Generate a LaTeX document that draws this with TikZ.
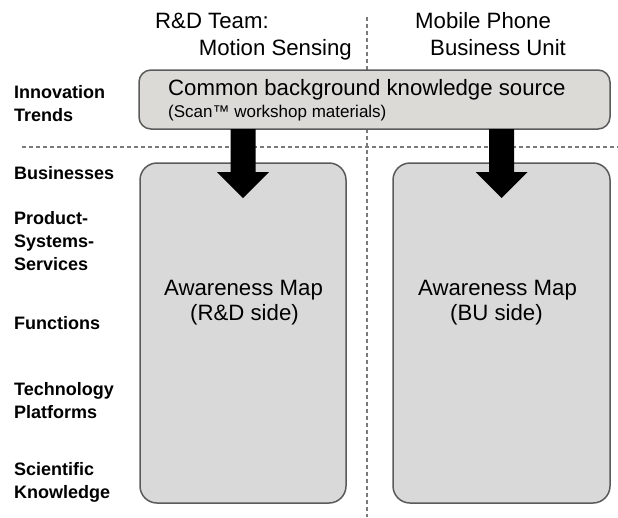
\documentclass[tikz,border=0pt]{standalone}
\usepackage{fontspec}
\setmainfont{Liberation Sans}
\usetikzlibrary{calc}
\definecolor{srcfill}{HTML}{DCDAD6}
\definecolor{mapfill}{HTML}{D9D9D9}
\definecolor{edgegray}{HTML}{5A5A5A}
\definecolor{guidegray}{HTML}{7A7A7A}
\begin{document}
\begin{tikzpicture}[x=1pt,y=-1pt,
  layer/.style={font=\fontsize{18}{21}\selectfont\bfseries, anchor=base west, inner sep=0pt},
  head/.style={font=\fontsize{22.2}{26}\selectfont, inner sep=0pt},
  small/.style={font=\fontsize{17}{19}\selectfont, inner sep=0pt},
  guide/.style={draw=guidegray, line width=1.3pt, dash pattern=on 4pt off 3pt},
  srcbox/.style={draw=edgegray, line width=1.5pt, fill=srcfill, rounded corners=12pt, outer sep=0pt, inner sep=0pt},
  panel/.style={draw=edgegray, line width=1.5pt, fill=mapfill, rounded corners=17pt, outer sep=0pt, inner sep=0pt},
  blockarrow/.style={fill=black}]
\useasboundingbox (0,0) rectangle (618,517);

% dashed separators between the two sides and between the layers
\coordinate (vtop) at (367,17);
\coordinate (vbot) at (367,517);
\coordinate (hleft) at (22,147);
\coordinate (hright) at (618,147);
\draw[guide] (vtop) -- (vbot);
\draw[guide] (hleft) -- (hright);

% column headings
\node[head, anchor=base west] (rdA) at (155,28) {R\&D Team:};
\node[head, anchor=base east] (rdB) at (352,55) {Motion Sensing};
\node[head, anchor=base west] (buA) at (415,28) {Mobile Phone};
\node[head, anchor=base west] (buB) at (430,55) {Business Unit};

% shared knowledge source
\node[srcbox, minimum width=471pt, minimum height=59pt] (src) at (374.5,99.5) {};
\node[head, anchor=base west] (srcT) at (168,95) {Common background knowledge source};
\node[small, anchor=base west] (srcS) at (168,117) {(Scan™ workshop materials)};

% awareness maps
\node[panel, minimum width=206pt, minimum height=340pt] (lmap) at (243,333) {};
\node[panel, minimum width=217pt, minimum height=340pt] (rmap) at (501.5,333) {};
\node[head, anchor=base] (lmapA) at (243.5,295) {Awareness Map};
\node[head, anchor=base] (lmapB) at (244.5,320) {(R\&D side)};
\node[head, anchor=base] (rmapA) at (497.5,295) {Awareness Map};
\node[head, anchor=base] (rmapB) at (496.5,320) {(BU side)};

% block arrows from the source into each map
\foreach \m in {lmap,rmap}
  \fill[blockarrow] (src.south -| \m.north) ++(-12.5,0) -- ++(0,43) -- ++(-13.5,0)
    -- ++(26,26) -- ++(26,-26) -- ++(-13.5,0) -- ++(0,-43) -- cycle;

% layer labels
\node[layer] (l1a) at (14,98) {Innovation};
\node[layer] (l1b) at (14,121) {Trends};
\node[layer] (l2) at (14,179) {Businesses};
\node[layer] (l3a) at (14,224) {Product-};
\node[layer] (l3b) at (14,247) {Systems-};
\node[layer] (l3c) at (14,270) {Services};
\node[layer] (l4) at (14,329) {Functions};
\node[layer] (l5a) at (14,395) {Technology};
\node[layer] (l5b) at (14,418) {Platforms};
\node[layer] (l6a) at (14,475) {Scientific};
\node[layer] (l6b) at (14,498) {Knowledge};
\end{tikzpicture}
\end{document}
